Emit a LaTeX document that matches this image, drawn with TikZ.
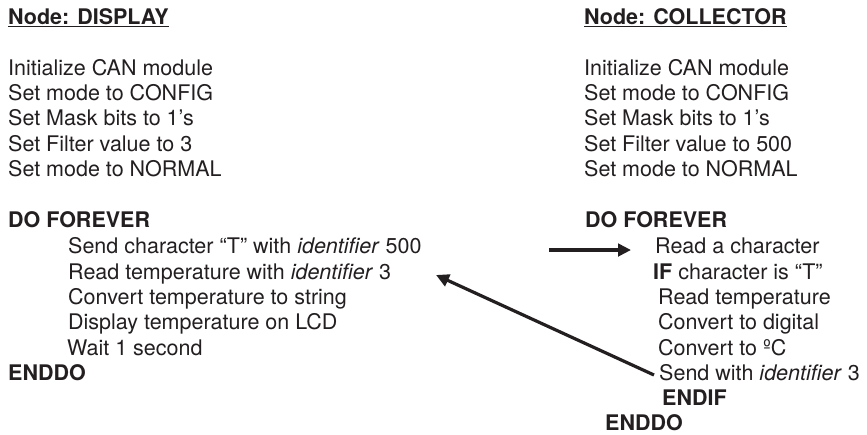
\documentclass[tikz,border=0pt]{standalone}
\usepackage{fontspec}
\setmainfont{TeX Gyre Heros}
\usetikzlibrary{arrows.meta}
\definecolor{ink}{HTML}{231F20}
\tikzset{
  line/.style={anchor=base west, inner sep=0pt, text=ink,
    font=\fontsize{21.5}{25}\selectfont},
  head/.style={line, font=\fontsize{21.5}{25}\selectfont\bfseries},
  rulebar/.style={draw=ink, line width=1.6pt},
  msg/.style={draw=ink, line width=3.2pt,
    -{Triangle[length=13pt,width=12.5pt]}},
}
\begin{document}
\begin{tikzpicture}[x=1pt,y=-1pt]
\useasboundingbox (0,0) rectangle (867,434);

% ---- DISPLAY node program ----
\node[head] (dtitle) at (8,24) {Node: DISPLAY};
\draw[rulebar] ([yshift=-2.5pt]dtitle.base west) -- ([yshift=-2.5pt]dtitle.base east);
\node[line] (d1) at (8,75)  {Initialize CAN module};
\node[line] (d2) at (8,100) {Set mode to CONFIG};
\node[line] (d3) at (8,125) {Set Mask bits to 1’s};
\node[line] (d4) at (8,151) {Set Filter value to 3};
\node[line] (d5) at (8,176) {Set mode to NORMAL};
\node[head] (ddo) at (8,227) {DO FOREVER};
\node[line] (dsend) at (68,253) {Send character “T” with \textit{identifier} 500};
\node[line] (dread) at (68,279) {Read temperature with \textit{identifier} 3};
\node[line] (dconv) at (68,304) {Convert temperature to string};
\node[line] (dlcd)  at (68,329) {Display temperature on LCD};
\node[line] (dwait) at (67,355) {Wait 1 second};
\node[head] (dend) at (8,380) {ENDDO};

% ---- COLLECTOR node program ----
\node[head] (ctitle) at (584,24) {Node: COLLECTOR};
\draw[rulebar] ([yshift=-2.5pt]ctitle.base west) -- ([yshift=-2.5pt]ctitle.base east);
\node[line] (c1) at (584,75)  {Initialize CAN module};
\node[line] (c2) at (584,100) {Set mode to CONFIG};
\node[line] (c3) at (584,125) {Set Mask bits to 1’s};
\node[line] (c4) at (584,151) {Set Filter value to 500};
\node[line] (c5) at (584,176) {Set mode to NORMAL};
\node[head] (cdo) at (585,227) {DO FOREVER};
\node[line] (cread) at (655,253) {Read a character};
\node[line] (cif) at (653,279) {\textbf{IF} character is “T”};
\node[line] (ctemp) at (658,304) {Read temperature};
\node[line] (cdig) at (658,329) {Convert to digital};
\node[line] (cdeg) at (658,355) {Convert to ºC};
\node[line] (csend) at (659,380) {Send with \textit{identifier} 3};
\node[head] (cendif) at (662,405) {ENDIF};
\node[head] (cend) at (605,430) {ENDDO};

% ---- CAN messages ----
\coordinate (reqtail) at (549,250);
\coordinate (reqtip) at (631,250);
\draw[msg] (reqtail) -- (reqtip);

\coordinate (reptail) at (654,375);
\coordinate (reptip) at (436,275);
\draw[msg] (reptail) -- (reptip);
\end{tikzpicture}
\end{document}
